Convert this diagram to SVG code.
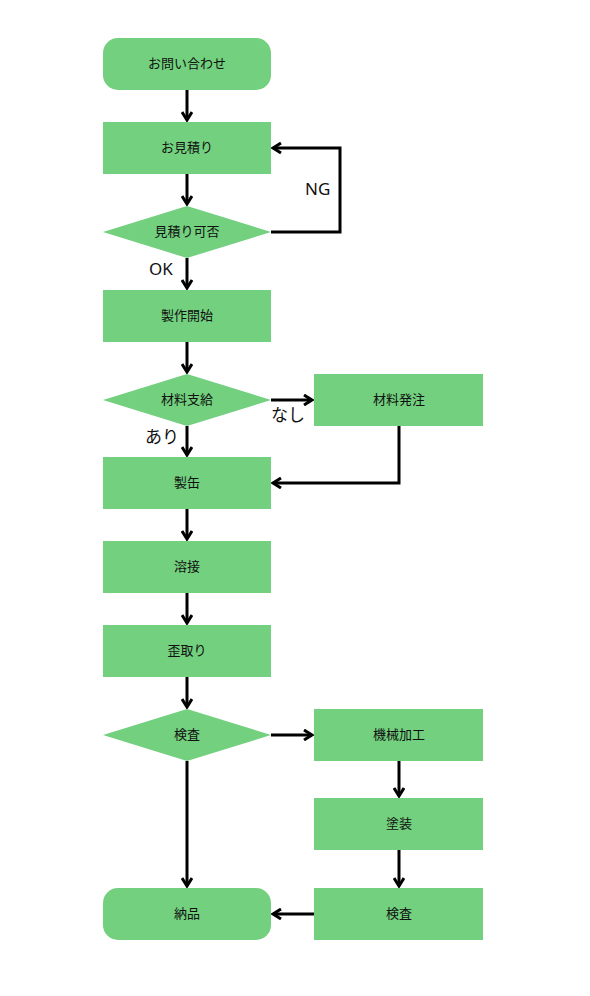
<svg xmlns="http://www.w3.org/2000/svg" width="590" height="996" viewBox="0 0 590 996">
<style>
.n{fill:#72d07e}
.t{font-family:"Noto Sans CJK JP","Noto Sans",sans-serif;font-size:13px;fill:#111;text-anchor:middle}
.l{font-family:"Noto Sans","Noto Sans CJK JP",sans-serif;font-size:17px;fill:#111}
.c{fill:none;stroke:#000;stroke-width:3}
</style>
<defs>
<marker id="a" viewBox="0 0 12 12" refX="10" refY="6" markerWidth="12" markerHeight="12" markerUnits="userSpaceOnUse" orient="auto">
<path d="M2,1 L10,6 L2,11" fill="none" stroke="#000" stroke-width="3"/>
</marker>
</defs>
<rect width="590" height="996" fill="#fff"/>
<g id="connectors">
<path class="c" d="M187,90 V120" marker-end="url(#a)"/>
<path class="c" d="M187,174 V204" marker-end="url(#a)"/>
<path class="c" d="M271,232 H340 V148 H273" marker-end="url(#a)"/>
<path class="c" d="M187,258 V288" marker-end="url(#a)"/>
<path class="c" d="M187,342 V372" marker-end="url(#a)"/>
<path class="c" d="M271,400 H312" marker-end="url(#a)"/>
<path class="c" d="M187,426 V455" marker-end="url(#a)"/>
<path class="c" d="M399,426 V483 H273" marker-end="url(#a)"/>
<path class="c" d="M187,509 V539" marker-end="url(#a)"/>
<path class="c" d="M187,593 V623" marker-end="url(#a)"/>
<path class="c" d="M187,677 V707" marker-end="url(#a)"/>
<path class="c" d="M271,735 H312" marker-end="url(#a)"/>
<path class="c" d="M399,761 V796" marker-end="url(#a)"/>
<path class="c" d="M399,850 V886" marker-end="url(#a)"/>
<path class="c" d="M187,761 V886" marker-end="url(#a)"/>
<path class="c" d="M314,914 H273" marker-end="url(#a)"/>
<text class="l" x="305" y="195">NG</text>
<text class="l" x="149" y="275">OK</text>
<text class="l" x="271" y="421">なし</text>
<text class="l" x="145" y="443">あり</text>
</g>
<g id="n1"><rect class="n" x="103" y="38" width="168" height="52" rx="15"/><text class="t" x="187" y="68">お問い合わせ</text></g>
<g id="n2"><rect class="n" x="103" y="122" width="168" height="52"/><text class="t" x="187" y="152">お見積り</text></g>
<g id="n3"><polygon class="n" points="103,232 187,206 271,232 187,258"/><text class="t" x="187" y="236">見積り可否</text></g>
<g id="n4"><rect class="n" x="103" y="290" width="168" height="52"/><text class="t" x="187" y="320">製作開始</text></g>
<g id="n5"><polygon class="n" points="103,400 187,374 271,400 187,426"/><text class="t" x="187" y="404">材料支給</text></g>
<g id="n6"><rect class="n" x="314" y="374" width="169" height="52"/><text class="t" x="399" y="404">材料発注</text></g>
<g id="n7"><rect class="n" x="103" y="457" width="168" height="52"/><text class="t" x="187" y="487">製缶</text></g>
<g id="n8"><rect class="n" x="103" y="541" width="168" height="52"/><text class="t" x="187" y="571">溶接</text></g>
<g id="n9"><rect class="n" x="103" y="625" width="168" height="52"/><text class="t" x="187" y="655">歪取り</text></g>
<g id="n10"><polygon class="n" points="103,735 187,709 271,735 187,761"/><text class="t" x="187" y="739">検査</text></g>
<g id="n11"><rect class="n" x="314" y="709" width="169" height="52"/><text class="t" x="399" y="739">機械加工</text></g>
<g id="n12"><rect class="n" x="314" y="798" width="169" height="52"/><text class="t" x="399" y="828">塗装</text></g>
<g id="n13"><rect class="n" x="314" y="888" width="169" height="52"/><text class="t" x="399" y="918">検査</text></g>
<g id="n14"><rect class="n" x="103" y="888" width="168" height="52" rx="15"/><text class="t" x="187" y="918">納品</text></g>
</svg>
